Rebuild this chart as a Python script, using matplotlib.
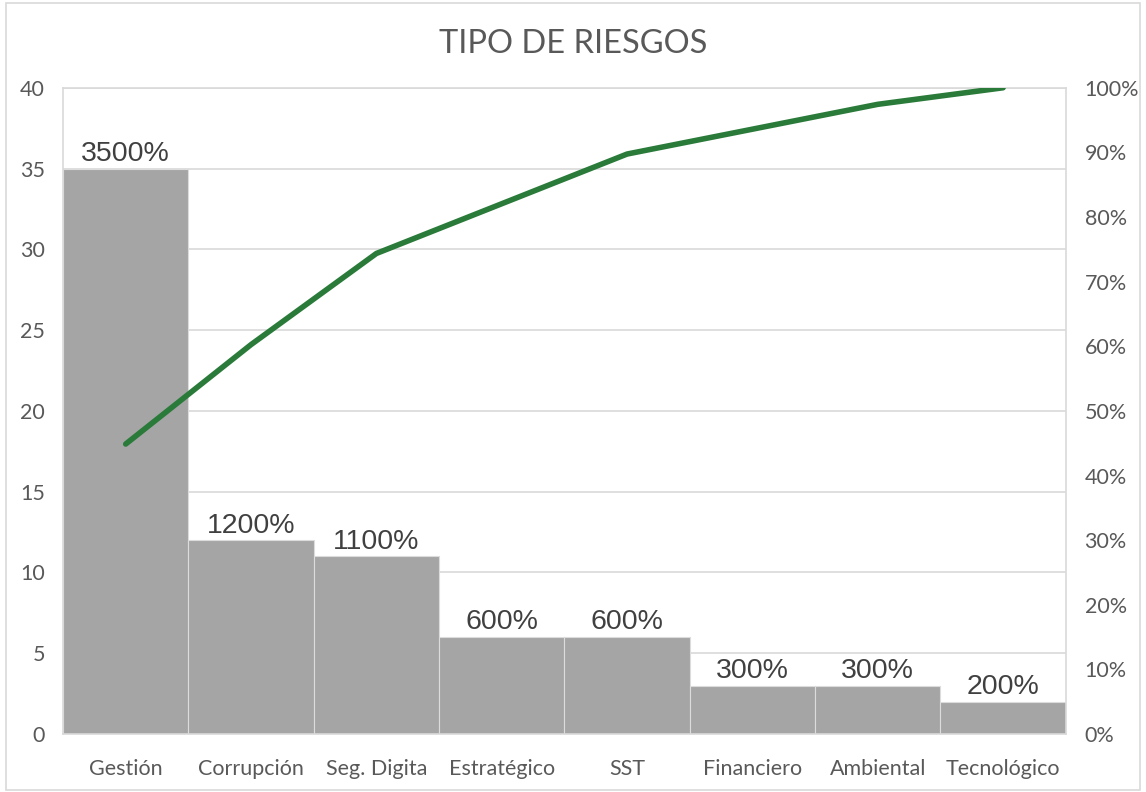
import numpy as np
import matplotlib.pyplot as plt
from matplotlib.ticker import PercentFormatter, MultipleLocator

# categories and counts per risk type
categorias = ["Gestión", "Corrupción", "Seg. Digita", "Estratégico",
              "SST", "Financiero", "Ambiental", "Tecnológico"]
cantidades = [35, 12, 11, 6, 6, 3, 3, 2]
etiquetas = ["3500%", "1200%", "1100%", "600%", "600%", "300%", "300%", "200%"]

# cumulative share (Pareto line)
acumulado = np.cumsum(cantidades) / np.sum(cantidades)

gris_txt = "#595959"
fig = plt.figure(figsize=(11.46, 7.92), dpi=100)
ax = fig.add_axes([0.055, 0.0732, 0.875, 0.816])

x = np.arange(len(categorias))
ax.bar(x, cantidades, width=1.0, color="#a5a5a5", edgecolor="#dcdcdc",
       linewidth=0.8, zorder=2)
for xi, v, t in zip(x, cantidades, etiquetas):
    ax.text(xi, v + 0.1, t, ha="center", va="bottom", fontsize=20.5,
            family="Liberation Sans", color="#404040", zorder=4)

ax.set_xlim(-0.5, len(categorias) - 0.5)
ax.set_ylim(0, 40)
ax.yaxis.set_major_locator(MultipleLocator(5))
ax.grid(axis="y", color="#d9d9d9", linewidth=1.2, zorder=0)
ax.set_axisbelow(True)
ax.set_xticks(x)
ax.set_xticklabels(categorias)
for s in ax.spines.values():
    s.set_color("#d9d9d9")
    s.set_linewidth(1.2)
ax.tick_params(length=0, labelsize=15.5, colors=gris_txt, labelfontfamily="Lato")
ax.tick_params(axis="x", pad=18)
ax.tick_params(axis="y", pad=13)

ax2 = ax.twinx()
ax2.plot(x, acumulado, color="#2a7a3a", linewidth=4.0,
         solid_capstyle="round", zorder=5)
ax2.set_ylim(0, 1)
ax2.yaxis.set_major_locator(MultipleLocator(0.1))
ax2.yaxis.set_major_formatter(PercentFormatter(1.0, decimals=0))
for s in ax2.spines.values():
    s.set_visible(False)
ax2.tick_params(length=0, labelsize=15.5, colors=gris_txt, pad=13.5,
                labelfontfamily="Lato")

fig.text(0.5, 0.945, "TIPO DE RIESGOS", ha="center", va="center",
         fontsize=23.5, color=gris_txt, family="Lato")

# outer chart frame
fig.patches.append(plt.Rectangle((0.005, 0.003), 0.99, 0.993,
                                 transform=fig.transFigure, fill=False,
                                 edgecolor="#d9d9d9", linewidth=1.2))

fig.savefig("out.png", dpi=100)
